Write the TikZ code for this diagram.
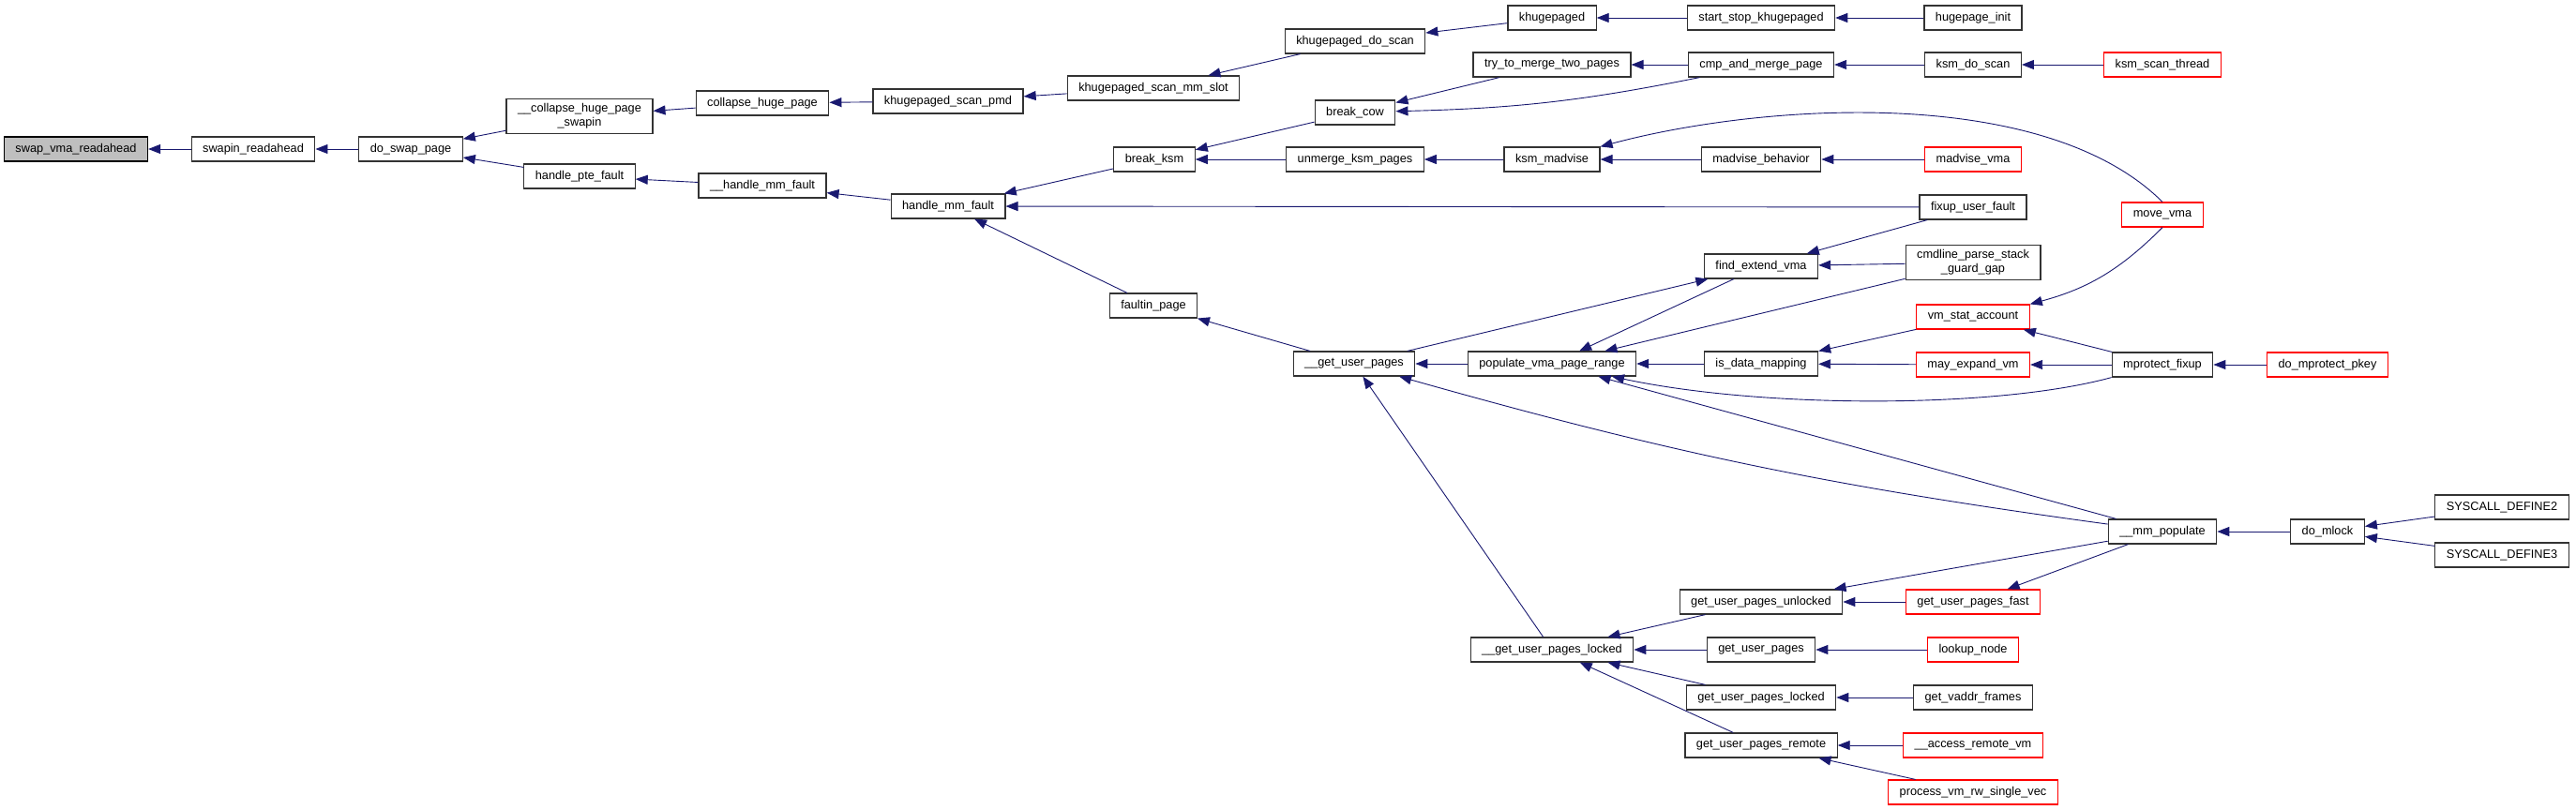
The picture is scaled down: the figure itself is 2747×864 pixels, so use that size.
\documentclass[tikz,border=0pt]{standalone}
\usepackage{fontspec}
\setmainfont{Liberation Sans}
\usetikzlibrary{arrows.meta}
\definecolor{edgeblue}{HTML}{191970}
\definecolor{boxgray}{HTML}{BFBFBF}

\begin{document}
\begin{tikzpicture}[x=1pt,y=-1pt,
  fn/.style={draw=black!80,line width=1.2pt,fill=white,inner xsep=12pt,inner ysep=5pt,
    minimum height=26pt,align=center,font=\fontsize{12.75}{15}\selectfont},
  fnred/.style={fn,draw=red},
  fnmain/.style={fn,draw=black,fill=boxgray},
  callarrow/.style={draw=edgeblue,line width=0.9pt,{Triangle[length=13pt,width=10pt]}-}]
  \useasboundingbox (0,0) rectangle (2747,864);

  % first columns: swap path
  \node[fnmain] (svr) at (81,159) {swap\_vma\_readahead};
  \node[fn] (sr) at (270,159) {swapin\_readahead};
  \node[fn] (dsp) at (438,159) {do\_swap\_page};
  \node[fn] (chps) at (618,124) {\_\_collapse\_huge\_page\\\_swapin};
  \node[fn] (hpf) at (618,188) {handle\_pte\_fault};
  \node[fn] (chp) at (813,110) {collapse\_huge\_page};
  \node[fn] (uhmf) at (813,198) {\_\_handle\_mm\_fault};
  \node[fn] (ksp) at (1011,108) {khugepaged\_scan\_pmd};
  \node[fn] (hmf) at (1011,220) {handle\_mm\_fault};
  \node[fn] (ksms) at (1230,94) {khugepaged\_scan\_mm\_slot};
  \node[fn] (bk) at (1231,170) {break\_ksm};
  \node[fn] (fp) at (1230,326) {faultin\_page};
  \node[fn] (kds) at (1445,44) {khugepaged\_do\_scan};
  \node[fn] (bc) at (1445,120) {break\_cow};
  \node[fn] (uksm) at (1445,170) {unmerge\_ksm\_pages};
  \node[fn] (gup) at (1444,388) {\_\_get\_user\_pages};

  % middle columns
  \node[fn] (kd) at (1655,19) {khugepaged};
  \node[fn] (ttm) at (1655,69) {try\_to\_merge\_two\_pages};
  \node[fn] (km) at (1655,170) {ksm\_madvise};
  \node[fn] (pvr) at (1655,388) {populate\_vma\_page\_range};
  \node[fn] (gupl) at (1655,693) {\_\_get\_user\_pages\_locked};
  \node[fn] (ssk) at (1878,19) {start\_stop\_khugepaged};
  \node[fn] (cmp) at (1878,69) {cmp\_and\_merge\_page};
  \node[fn] (mb) at (1878,170) {madvise\_behavior};
  \node[fn] (fev) at (1878,284) {find\_extend\_vma};
  \node[fn] (idm) at (1878,388) {is\_data\_mapping};
  \node[fn] (guu) at (1878,642) {get\_user\_pages\_unlocked};
  \node[fn] (gu) at (1878,693) {get\_user\_pages};
  \node[fn] (gul) at (1878,744) {get\_user\_pages\_locked};
  \node[fn] (gur) at (1878,795) {get\_user\_pages\_remote};

  % right columns
  \node[fn] (hi) at (2104,19) {hugepage\_init};
  \node[fn] (kdsc) at (2104,69) {ksm\_do\_scan};
  \node[fnred] (mv) at (2104,170) {madvise\_vma};
  \node[fn] (fuf) at (2104,221) {fixup\_user\_fault};
  \node[fn] (cpsg) at (2104,280) {cmdline\_parse\_stack\\\_guard\_gap};
  \node[fnred] (vsa) at (2104,338) {vm\_stat\_account};
  \node[fnred] (mev) at (2104,389) {may\_expand\_vm};
  \node[fnred] (gupf) at (2104,642) {get\_user\_pages\_fast};
  \node[fnred] (ln) at (2104,693) {lookup\_node};
  \node[fn] (gvf) at (2104,744) {get\_vaddr\_frames};
  \node[fnred] (arv) at (2104,795) {\_\_access\_remote\_vm};
  \node[fnred] (pvm) at (2104,845) {process\_vm\_rw\_single\_vec};
  \node[fnred] (kst) at (2306,69) {ksm\_scan\_thread};
  \node[fnred] (mova) at (2306,229) {move\_vma};
  \node[fn] (mpf) at (2306,389) {mprotect\_fixup};
  \node[fn] (mmp) at (2306,567) {\_\_mm\_populate};
  \node[fnred] (dmp) at (2482,389) {do\_mprotect\_pkey};
  \node[fn] (dml) at (2482,567) {do\_mlock};
  \node[fn] (sd2) at (2668,541) {SYSCALL\_DEFINE2};
  \node[fn] (sd3) at (2668,592) {SYSCALL\_DEFINE3};

  % calls, tip at the callee
  \draw[callarrow] (svr) -- (sr);
  \draw[callarrow] (sr) -- (dsp);
  \draw[callarrow] (dsp) -- (chps);
  \draw[callarrow] (dsp) -- (hpf);
  \draw[callarrow] (chps) -- (chp);
  \draw[callarrow] (hpf) -- (uhmf);
  \draw[callarrow] (chp) -- (ksp);
  \draw[callarrow] (uhmf) -- (hmf);
  \draw[callarrow] (ksp) -- (ksms);
  \draw[callarrow] (ksms) -- (kds);
  \draw[callarrow] (kds) -- (kd);
  \draw[callarrow] (kd) -- (ssk);
  \draw[callarrow] (ssk) -- (hi);
  \draw[callarrow] (hmf) -- (bk);
  \draw[callarrow] (hmf) -- (fuf);
  \draw[callarrow] (hmf) -- (fp);
  \draw[callarrow] (bk) -- (bc);
  \draw[callarrow] (bk) -- (uksm);
  \draw[callarrow] (bc) -- (ttm);
  \draw[callarrow] (bc) to[bend right=5] (cmp);
  \draw[callarrow] (ttm) -- (cmp);
  \draw[callarrow] (cmp) -- (kdsc);
  \draw[callarrow] (kdsc) -- (kst);
  \draw[callarrow] (uksm) -- (km);
  \draw[callarrow] (km.north east) .. controls (1880,110) and (2180,90) .. (mova.north);
  \draw[callarrow] (km) -- (mb);
  \draw[callarrow] (mb) -- (mv);
  \draw[callarrow] (fp) -- (gup);
  \draw[callarrow] (gup) -- (pvr);
  \draw[callarrow] (fev) -- (gup);
  \draw[callarrow] (gup) -- (gupl);
  \draw[callarrow] (gup) to[bend right=4] (mmp);
  \draw[callarrow] (pvr) -- (fev);
  \draw[callarrow] (pvr) -- (cpsg);
  \draw[callarrow] (pvr) -- (idm);
  \draw[callarrow] (pvr.-12) .. controls (1880,436) and (2130,436) .. (mpf.south west);
  \draw[callarrow] (pvr) -- (mmp);
  \draw[callarrow] (fev) -- (fuf);
  \draw[callarrow] (fev) -- (cpsg);
  \draw[callarrow] (idm) -- (vsa);
  \draw[callarrow] (idm) -- (mev);
  \draw[callarrow] (vsa.north east) to[bend right=15] (mova.south);
  \draw[callarrow] (vsa) -- (mpf);
  \draw[callarrow] (mev) -- (mpf);
  \draw[callarrow] (mpf) -- (dmp);
  \draw[callarrow] (gupl) -- (guu);
  \draw[callarrow] (gupl) -- (gu);
  \draw[callarrow] (gupl) -- (gul);
  \draw[callarrow] (gupl) -- (gur);
  \draw[callarrow] (guu) -- (gupf);
  \draw[callarrow] (guu) -- (mmp);
  \draw[callarrow] (gupf) -- (mmp);
  \draw[callarrow] (gu) -- (ln);
  \draw[callarrow] (gul) -- (gvf);
  \draw[callarrow] (gur) -- (arv);
  \draw[callarrow] (gur) -- (pvm);
  \draw[callarrow] (mmp) -- (dml);
  \draw[callarrow] (dml) -- (sd2);
  \draw[callarrow] (dml) -- (sd3);
\end{tikzpicture}
\end{document}
